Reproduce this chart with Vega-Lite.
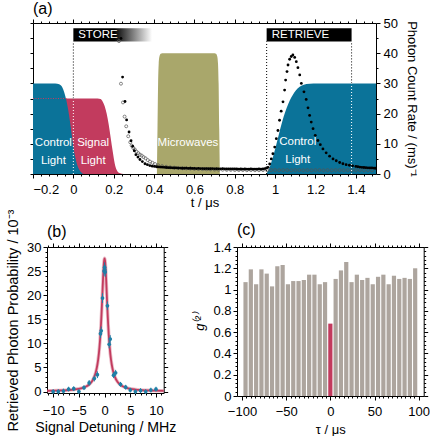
{
"$schema": "https://vega.github.io/schema/vega-lite/v6.json",
"background": "white",
"padding": {"left": 5, "top": 1, "right": 0, "bottom": 0},
"columns": 1,
"spacing": 0,
"config": {
  "font": "Liberation Sans",
  "view": {"stroke": null},
  "axis": {"grid": false, "domainColor": "black", "tickColor": "black", "labelColor": "black", "titleColor": "black", "labelFont": "Liberation Sans", "titleFont": "Liberation Sans", "titleFontWeight": "normal", "labelFontSize": 13, "titleFontSize": 13, "domainWidth": 1, "tickWidth": 1, "zindex": 1},
  "title": {"fontSize": 16, "fontWeight": "normal", "anchor": "start", "frame": "group", "font": "Liberation Sans", "color": "black", "offset": 3}
},
"datasets": {
  "ctrl1": [{"t":-0.2,"v":30},{"t":-0.09,"v":30},{"t":-0.07,"v":29.7},{"t":-0.055,"v":28.7},{"t":-0.045,"v":27},{"t":-0.035,"v":24.5},{"t":-0.025,"v":21},{"t":-0.015,"v":16.5},{"t":-0.005,"v":11.5},{"t":0.005,"v":7},{"t":0.015,"v":4},{"t":0.025,"v":2},{"t":0.035,"v":0.8},{"t":0.045,"v":0.2},{"t":0.055,"v":0}],
  "signal": [{"t":-0.2,"v":25},{"t":0.12,"v":25},{"t":0.135,"v":24.8},{"t":0.145,"v":24},{"t":0.155,"v":22.5},{"t":0.165,"v":20},{"t":0.175,"v":16.5},{"t":0.185,"v":12},{"t":0.195,"v":7.5},{"t":0.205,"v":3.5},{"t":0.215,"v":1.3},{"t":0.225,"v":0.4},{"t":0.24,"v":0.1},{"t":0.26,"v":0}],
  "micro": [{"t":0.414,"v":0},{"t":0.417,"v":15},{"t":0.42,"v":30},{"t":0.423,"v":36.5},{"t":0.427,"v":39},{"t":0.433,"v":39.8},{"t":0.44,"v":40},{"t":0.7,"v":40},{"t":0.707,"v":39.8},{"t":0.713,"v":39},{"t":0.717,"v":36.5},{"t":0.72,"v":30},{"t":0.723,"v":15},{"t":0.726,"v":0}],
  "ctrl2": [{"t":0.955,"v":0},{"t":0.965,"v":1},{"t":0.975,"v":2.6},{"t":0.99,"v":5.8},{"t":1.005,"v":9.5},{"t":1.02,"v":13.5},{"t":1.035,"v":17.3},{"t":1.05,"v":20.5},{"t":1.065,"v":23.2},{"t":1.08,"v":25.3},{"t":1.095,"v":27},{"t":1.11,"v":28.2},{"t":1.13,"v":29.2},{"t":1.155,"v":29.8},{"t":1.19,"v":30},{"t":1.5,"v":30}],
  "pinkline": [{"t":-0.2,"v":25},{"t":-0.03,"v":25}],
  "vblack": [{"t":0,"lo":25,"hi":43.9},{"t":0.958,"lo":0,"hi":43.9},{"t":1.379,"lo":30,"hi":43.9}],
  "vwhite": [{"t":0,"lo":0,"hi":25},{"t":1.379,"lo":0,"hi":30}],
  "storeBox": [{"t1":0,"t2":0.39,"lo":43.9,"hi":48.3}],
  "retrieveBox": [{"t1":0.958,"t2":1.379,"lo":43.9,"hi":48.3}],
  "areaLabels": [{"t":-0.099,"v":10.3,"label":"Control"},{"t":-0.099,"v":4.4,"label":"Light"},{"t":0.098,"v":10.3,"label":"Signal"},{"t":0.098,"v":4.4,"label":"Light"},{"t":0.568,"v":10.3,"label":"Microwaves"},{"t":1.112,"v":10.6,"label":"Control"},{"t":1.112,"v":4.8,"label":"Light"}],
  "boxLabels": [{"t":0.024,"v":46,"label":"STORE"},{"t":0.983,"v":46,"label":"RETRIEVE"}],
  "openPts": [{"t":0.226,"v":44.0},{"t":0.236,"v":29.9},{"t":0.246,"v":23.7},{"t":0.254,"v":19.0},{"t":0.262,"v":15.8},{"t":0.272,"v":12.5},{"t":0.282,"v":10.5},{"t":0.289,"v":9.4},{"t":0.297,"v":8.6},{"t":0.305,"v":8.1},{"t":0.313,"v":7.4},{"t":0.322,"v":6.9},{"t":0.33,"v":6.4},{"t":0.339,"v":6.1},{"t":0.348,"v":5.6},{"t":0.358,"v":5.2},{"t":0.369,"v":4.6},{"t":0.38,"v":4.1},{"t":0.392,"v":3.7},{"t":0.405,"v":3.3},{"t":0.42,"v":2.9},{"t":0.44,"v":2.6},{"t":0.46,"v":2.4},{"t":0.48,"v":2.2},{"t":0.5,"v":2.1},{"t":0.52,"v":2.0},{"t":0.54,"v":1.9},{"t":0.56,"v":1.85},{"t":0.58,"v":1.8},{"t":0.6,"v":1.7},{"t":0.62,"v":1.65},{"t":0.64,"v":1.6},{"t":0.66,"v":1.55},{"t":0.68,"v":1.5},{"t":0.7,"v":1.45},{"t":0.72,"v":1.4},{"t":0.74,"v":1.4},{"t":0.76,"v":1.35},{"t":0.78,"v":1.35},{"t":0.8,"v":1.3},{"t":0.82,"v":1.3},{"t":0.84,"v":1.3},{"t":0.86,"v":1.25},{"t":0.88,"v":1.3},{"t":0.9,"v":1.25},{"t":0.92,"v":1.25},{"t":0.94,"v":1.3},{"t":0.96,"v":1.25},{"t":0.98,"v":1.3},{"t":1.0,"v":1.3},{"t":1.02,"v":1.25},{"t":1.04,"v":1.3},{"t":1.06,"v":1.3},{"t":1.08,"v":1.25},{"t":1.1,"v":1.3},{"t":1.12,"v":1.3},{"t":1.14,"v":1.25},{"t":1.16,"v":1.3},{"t":1.18,"v":1.25},{"t":1.2,"v":1.3},{"t":1.22,"v":1.3},{"t":1.24,"v":1.25},{"t":1.26,"v":1.3},{"t":1.28,"v":1.25},{"t":1.3,"v":1.3},{"t":1.32,"v":1.3},{"t":1.34,"v":1.25},{"t":1.36,"v":1.3},{"t":1.38,"v":1.25},{"t":1.4,"v":1.3},{"t":1.42,"v":1.3},{"t":1.44,"v":1.25},{"t":1.46,"v":1.3},{"t":1.48,"v":1.25}],
  "filledPts": [{"t":0.236,"v":44.9},{"t":0.244,"v":32.1},{"t":0.256,"v":24.0},{"t":0.264,"v":17.9},{"t":0.276,"v":13.9},{"t":0.286,"v":11.0},{"t":0.294,"v":9.2},{"t":0.302,"v":7.7},{"t":0.31,"v":6.4},{"t":0.32,"v":5.6},{"t":0.33,"v":4.8},{"t":0.342,"v":4.1},{"t":0.355,"v":3.4},{"t":0.367,"v":3.1},{"t":0.379,"v":2.8},{"t":0.391,"v":2.6},{"t":0.402,"v":2.5},{"t":0.412,"v":2.4},{"t":0.42,"v":2.35},{"t":0.43,"v":2.3},{"t":0.44,"v":2.25},{"t":0.45,"v":2.2},{"t":0.46,"v":2.15},{"t":0.47,"v":2.1},{"t":0.48,"v":2.1},{"t":0.49,"v":2.05},{"t":0.5,"v":2.0},{"t":0.51,"v":2.0},{"t":0.52,"v":1.95},{"t":0.53,"v":1.95},{"t":0.54,"v":1.9},{"t":0.55,"v":1.9},{"t":0.56,"v":1.95},{"t":0.57,"v":1.85},{"t":0.58,"v":1.9},{"t":0.59,"v":1.85},{"t":0.6,"v":1.85},{"t":0.61,"v":1.8},{"t":0.62,"v":1.85},{"t":0.63,"v":1.8},{"t":0.64,"v":1.8},{"t":0.65,"v":1.75},{"t":0.66,"v":1.8},{"t":0.67,"v":1.75},{"t":0.68,"v":1.75},{"t":0.69,"v":1.8},{"t":0.7,"v":1.7},{"t":0.71,"v":1.75},{"t":0.72,"v":1.7},{"t":0.73,"v":1.7},{"t":0.74,"v":1.75},{"t":0.75,"v":1.7},{"t":0.76,"v":1.65},{"t":0.77,"v":1.7},{"t":0.78,"v":1.65},{"t":0.79,"v":1.7},{"t":0.8,"v":1.65},{"t":0.81,"v":1.65},{"t":0.82,"v":1.6},{"t":0.83,"v":1.65},{"t":0.84,"v":1.6},{"t":0.85,"v":1.65},{"t":0.86,"v":1.6},{"t":0.87,"v":1.6},{"t":0.88,"v":1.65},{"t":0.89,"v":1.6},{"t":0.9,"v":1.6},{"t":0.91,"v":1.6},{"t":0.92,"v":1.65},{"t":0.93,"v":1.6},{"t":0.94,"v":1.65},{"t":0.95,"v":1.8},{"t":0.958,"v":2.0},{"t":0.965,"v":2.2},{"t":0.973,"v":3.3},{"t":0.981,"v":5.0},{"t":0.989,"v":6.7},{"t":0.998,"v":8.9},{"t":1.006,"v":11.7},{"t":1.014,"v":14.4},{"t":1.022,"v":17.8},{"t":1.03,"v":20.8},{"t":1.039,"v":23.9},{"t":1.047,"v":27.8},{"t":1.052,"v":31.1},{"t":1.059,"v":33.9},{"t":1.064,"v":36.1},{"t":1.072,"v":38.0},{"t":1.08,"v":38.9},{"t":1.088,"v":39.4},{"t":1.097,"v":38.6},{"t":1.105,"v":37.2},{"t":1.113,"v":35.2},{"t":1.122,"v":32.8},{"t":1.13,"v":30.0},{"t":1.143,"v":27.2},{"t":1.154,"v":24.7},{"t":1.163,"v":21.9},{"t":1.171,"v":19.4},{"t":1.179,"v":17.2},{"t":1.188,"v":15.0},{"t":1.199,"v":12.8},{"t":1.212,"v":11.1},{"t":1.224,"v":9.7},{"t":1.237,"v":8.3},{"t":1.253,"v":7.0},{"t":1.27,"v":5.9},{"t":1.287,"v":5.0},{"t":1.303,"v":4.4},{"t":1.32,"v":3.8},{"t":1.336,"v":3.4},{"t":1.352,"v":3.1},{"t":1.368,"v":2.9},{"t":1.384,"v":2.7},{"t":1.4,"v":2.5},{"t":1.41,"v":2.4},{"t":1.42,"v":2.3},{"t":1.43,"v":2.2},{"t":1.44,"v":2.15},{"t":1.45,"v":2.1},{"t":1.46,"v":2.05},{"t":1.47,"v":2.0},{"t":1.48,"v":2.0},{"t":1.49,"v":1.95},{"t":1.497,"v":1.9}],
  "specPts": [{"f":-10,"p":0.0,"lo":-0.5,"hi":0.5},{"f":-9,"p":0.0,"lo":-0.5,"hi":0.5},{"f":-8,"p":0.1,"lo":-0.4,"hi":0.6},{"f":-7,"p":0.5,"lo":0.0,"hi":1.0},{"f":-6,"p":0.6,"lo":0.1,"hi":1.1},{"f":-5,"p":0.0,"lo":-0.5,"hi":0.5},{"f":-4,"p":0.8,"lo":0.3,"hi":1.3},{"f":-3,"p":1.8,"lo":1.2,"hi":2.4},{"f":-2,"p":2.7,"lo":2.1,"hi":3.3},{"f":-1.4,"p":3.5,"lo":2.8,"hi":4.2},{"f":-0.8,"p":12.0,"lo":11.1,"hi":12.9},{"f":-0.65,"p":12.6,"lo":11.7,"hi":13.5},{"f":-0.4,"p":19.4,"lo":18.4,"hi":20.4},{"f":-0.1,"p":25.0,"lo":24.0,"hi":26.0},{"f":0,"p":25.8,"lo":24.8,"hi":26.8},{"f":0.05,"p":25.3,"lo":24.3,"hi":26.3},{"f":0.12,"p":24.8,"lo":23.8,"hi":25.8},{"f":0.55,"p":17.8,"lo":16.9,"hi":18.7},{"f":0.9,"p":9.8,"lo":9.0,"hi":10.6},{"f":1.1,"p":10.9,"lo":10.1,"hi":11.7},{"f":1.75,"p":3.4,"lo":2.8,"hi":4.0},{"f":2.15,"p":3.9,"lo":3.3,"hi":4.5},{"f":3.1,"p":1.5,"lo":1.0,"hi":2.0},{"f":4.1,"p":0.9,"lo":0.4,"hi":1.4},{"f":5,"p":0.3,"lo":-0.2,"hi":0.8},{"f":6,"p":0.0,"lo":-0.5,"hi":0.5},{"f":7,"p":0.2,"lo":-0.3,"hi":0.7},{"f":8,"p":0.0,"lo":-0.5,"hi":0.5},{"f":9,"p":0.3,"lo":-0.2,"hi":0.8},{"f":10,"p":0.5,"lo":0.0,"hi":1.0}],
  "fit": [{"f":-11.2,"p":0.16},{"f":-10,"p":0.18},{"f":-9,"p":0.22},{"f":-8,"p":0.26},{"f":-7,"p":0.32},{"f":-6,"p":0.42},{"f":-5,"p":0.58},{"f":-4,"p":0.87},{"f":-3.5,"p":1.11},{"f":-3,"p":1.47},{"f":-2.5,"p":2.06},{"f":-2,"p":3.06},{"f":-1.75,"p":3.86},{"f":-1.5,"p":4.99},{"f":-1.25,"p":6.64},{"f":-1,"p":9.13},{"f":-0.9,"p":10.45},{"f":-0.8,"p":12.02},{"f":-0.7,"p":13.85},{"f":-0.6,"p":15.96},{"f":-0.5,"p":18.33},{"f":-0.4,"p":20.85},{"f":-0.3,"p":23.36},{"f":-0.2,"p":25.57},{"f":-0.1,"p":27.1},{"f":0,"p":27.65},{"f":0.1,"p":27.1},{"f":0.2,"p":25.57},{"f":0.3,"p":23.36},{"f":0.4,"p":20.85},{"f":0.5,"p":18.33},{"f":0.6,"p":15.96},{"f":0.7,"p":13.85},{"f":0.8,"p":12.02},{"f":0.9,"p":10.45},{"f":1,"p":9.13},{"f":1.25,"p":6.64},{"f":1.5,"p":4.99},{"f":1.75,"p":3.86},{"f":2,"p":3.06},{"f":2.5,"p":2.06},{"f":3,"p":1.47},{"f":3.5,"p":1.11},{"f":4,"p":0.87},{"f":5,"p":0.58},{"f":6,"p":0.42},{"f":7,"p":0.32},{"f":8,"p":0.26},{"f":9,"p":0.22},{"f":10,"p":0.18},{"f":11.5,"p":0.15}],
  "bars": [{"tau":-96,"g":1.07},{"tau":-90,"g":1.19},{"tau":-84,"g":1.05},{"tau":-78,"g":1.19},{"tau":-72,"g":1.15},{"tau":-66,"g":1.03},{"tau":-60,"g":1.22},{"tau":-54,"g":1.23},{"tau":-48,"g":1.05},{"tau":-42,"g":1.08},{"tau":-36,"g":1.08},{"tau":-30,"g":1.09},{"tau":-24,"g":1.14},{"tau":-18,"g":1.14},{"tau":-12,"g":1.05},{"tau":-6,"g":1.07},{"tau":0,"g":0.68},{"tau":6,"g":1.1},{"tau":12,"g":1.18},{"tau":18,"g":1.26},{"tau":24,"g":1.07},{"tau":30,"g":1.14},{"tau":36,"g":1.09},{"tau":42,"g":1.11},{"tau":48,"g":1.05},{"tau":54,"g":1.12},{"tau":60,"g":1.14},{"tau":66,"g":1.05},{"tau":72,"g":1.13},{"tau":78,"g":1.1},{"tau":84,"g":1.11},{"tau":90,"g":1.1},{"tau":96,"g":1.2}],
  "blank": [{"k": 0}]
},
"concat": [
 {
  "width": 343, "height": 151,
  "title": {"text": "(a)", "offset": 0},
  "resolve": {"axis": {"x": "independent", "y": "independent"}},
  "layer": [
   {"data": {"name": "signal"}, "mark": {"type": "area", "color": "#C23B5E", "interpolate": "monotone"},
    "encoding": {"x": {"field": "t", "type": "quantitative", "scale": {"domain": [-0.2, 1.5], "nice": false, "zero": false}, "axis": {"orient": "bottom", "values": [-0.2, 0, 0.2, 0.4, 0.6, 0.8, 1, 1.2, 1.4], "format": "~g", "title": "t / μs", "tickSize": 4, "labelPadding": 5, "titlePadding": 0}},
                 "y": {"field": "v", "type": "quantitative", "scale": {"domain": [0, 50], "nice": false, "zero": false}, "axis": {"orient": "right", "values": [0, 10, 20, 30, 40, 50], "title": "Photon Count Rate / (ms)⁻¹", "tickSize": 4, "labelPadding": 3, "titlePadding": 7}}}},
   {"data": {"name": "ctrl1"}, "mark": {"type": "area", "color": "#0B7399", "interpolate": "monotone"},
    "encoding": {"x": {"field": "t", "type": "quantitative", "scale": {"domain": [-0.2, 1.5], "nice": false, "zero": false}, "axis": {"orient": "bottom", "values": [-0.16,-0.12,-0.08,-0.04,0.04,0.08,0.12,0.16,0.24,0.28,0.32,0.36,0.44,0.48,0.52,0.56,0.64,0.68,0.72,0.76,0.84,0.88,0.92,0.96,1.04,1.08,1.12,1.16,1.24,1.28,1.32,1.36,1.44,1.48], "labels": false, "title": null, "tickSize": 2, "domain": false}},
                 "y": {"field": "v", "type": "quantitative", "scale": {"domain": [0, 50], "nice": false, "zero": false}, "axis": {"orient": "right", "values": [5, 15, 25, 35, 45], "labels": false, "title": null, "tickSize": 2, "domain": false}}}},
   {"data": {"name": "pinkline"}, "mark": {"type": "line", "color": "#C23B5E", "strokeWidth": 1, "strokeDash": [1, 1.5]},
    "encoding": {"x": {"field": "t", "type": "quantitative", "scale": {"domain": [-0.2, 1.5], "nice": false, "zero": false}, "axis": null},
                 "y": {"field": "v", "type": "quantitative", "scale": {"domain": [0, 50], "nice": false, "zero": false}, "axis": null}}},
   {"data": {"name": "micro"}, "mark": {"type": "area", "color": "#A9A76B", "interpolate": "monotone"},
    "encoding": {"x": {"field": "t", "type": "quantitative", "scale": {"domain": [-0.2, 1.5], "nice": false, "zero": false}, "axis": {"orient": "top", "values": [-0.2, 0, 0.2, 0.4, 0.6, 0.8, 1, 1.2, 1.4], "labels": false, "title": null, "tickSize": 4}},
                 "y": {"field": "v", "type": "quantitative", "scale": {"domain": [0, 50], "nice": false, "zero": false}, "axis": {"orient": "left", "values": [0,5,10,15,20,25,30,35,40,45,50], "labels": false, "title": null, "tickSize": 3}}}},
   {"data": {"name": "ctrl2"}, "mark": {"type": "area", "color": "#0B7399", "interpolate": "monotone"},
    "encoding": {"x": {"field": "t", "type": "quantitative", "scale": {"domain": [-0.2, 1.5], "nice": false, "zero": false}, "axis": {"orient": "top", "values": [-0.16,-0.12,-0.08,-0.04,0.04,0.08,0.12,0.16,0.24,0.28,0.32,0.36,0.44,0.48,0.52,0.56,0.64,0.68,0.72,0.76,0.84,0.88,0.92,0.96,1.04,1.08,1.12,1.16,1.24,1.28,1.32,1.36,1.44,1.48], "labels": false, "title": null, "tickSize": 2, "domain": false}},
                 "y": {"field": "v", "type": "quantitative", "scale": {"domain": [0, 50], "nice": false, "zero": false}, "axis": null}}},
   {"data": {"name": "vblack"}, "mark": {"type": "rule", "color": "black", "strokeWidth": 1, "strokeDash": [1, 2]},
    "encoding": {"x": {"field": "t", "type": "quantitative", "scale": {"domain": [-0.2, 1.5], "nice": false, "zero": false}, "axis": null},
                 "y": {"field": "lo", "type": "quantitative", "scale": {"domain": [0, 50], "nice": false, "zero": false}, "axis": null}, "y2": {"field": "hi"}}},
   {"data": {"name": "vwhite"}, "mark": {"type": "rule", "color": "white", "strokeWidth": 1, "strokeDash": [1, 2]},
    "encoding": {"x": {"field": "t", "type": "quantitative", "scale": {"domain": [-0.2, 1.5], "nice": false, "zero": false}, "axis": null},
                 "y": {"field": "lo", "type": "quantitative", "scale": {"domain": [0, 50], "nice": false, "zero": false}, "axis": null}, "y2": {"field": "hi"}}},
   {"data": {"name": "storeBox"}, "mark": {"type": "rect", "fill": {"gradient": "linear", "x1": 0, "y1": 0, "x2": 1, "y2": 0, "stops": [{"offset": 0, "color": "black"}, {"offset": 0.52, "color": "black"}, {"offset": 1, "color": "white"}]}},
    "encoding": {"x": {"field": "t1", "type": "quantitative", "scale": {"domain": [-0.2, 1.5], "nice": false, "zero": false}, "axis": null}, "x2": {"field": "t2"},
                 "y": {"field": "lo", "type": "quantitative", "scale": {"domain": [0, 50], "nice": false, "zero": false}, "axis": null}, "y2": {"field": "hi"}}},
   {"data": {"name": "retrieveBox"}, "mark": {"type": "rect", "color": "black"},
    "encoding": {"x": {"field": "t1", "type": "quantitative", "scale": {"domain": [-0.2, 1.5], "nice": false, "zero": false}, "axis": null}, "x2": {"field": "t2"},
                 "y": {"field": "lo", "type": "quantitative", "scale": {"domain": [0, 50], "nice": false, "zero": false}, "axis": null}, "y2": {"field": "hi"}}},
   {"data": {"name": "areaLabels"}, "mark": {"type": "text", "color": "white", "fontSize": 11.5, "font": "Liberation Sans", "baseline": "middle", "align": "center"},
    "encoding": {"x": {"field": "t", "type": "quantitative", "scale": {"domain": [-0.2, 1.5], "nice": false, "zero": false}, "axis": null},
                 "y": {"field": "v", "type": "quantitative", "scale": {"domain": [0, 50], "nice": false, "zero": false}, "axis": null}, "text": {"field": "label"}}},
   {"data": {"name": "boxLabels"}, "mark": {"type": "text", "color": "white", "fontSize": 11.5, "font": "Liberation Sans", "baseline": "middle", "align": "left"},
    "encoding": {"x": {"field": "t", "type": "quantitative", "scale": {"domain": [-0.2, 1.5], "nice": false, "zero": false}, "axis": null},
                 "y": {"field": "v", "type": "quantitative", "scale": {"domain": [0, 50], "nice": false, "zero": false}, "axis": null}, "text": {"field": "label"}}},
   {"data": {"name": "openPts"}, "mark": {"type": "point", "shape": "circle", "filled": false, "color": "#555555", "size": 9, "strokeWidth": 0.7, "opacity": 1},
    "encoding": {"x": {"field": "t", "type": "quantitative", "scale": {"domain": [-0.2, 1.5], "nice": false, "zero": false}, "axis": null},
                 "y": {"field": "v", "type": "quantitative", "scale": {"domain": [0, 50], "nice": false, "zero": false}, "axis": null}}},
   {"data": {"name": "filledPts"}, "mark": {"type": "circle", "color": "black", "size": 8, "opacity": 1},
    "encoding": {"x": {"field": "t", "type": "quantitative", "scale": {"domain": [-0.2, 1.5], "nice": false, "zero": false}, "axis": null},
                 "y": {"field": "v", "type": "quantitative", "scale": {"domain": [0, 50], "nice": false, "zero": false}, "axis": null}}}
  ]
 },
 {
  "spacing": 17,
  "hconcat": [
   {
    "bounds": "flush",
    "spacing": 13,
    "hconcat": [
     {"width": 1, "height": 146, "data": {"name": "blank"}, "mark": {"type": "point", "opacity": 0}, "encoding": {}},
     {
      "width": 116.7, "height": 146,
      "title": {"text": "(b)", "offset": -31},
      "resolve": {"axis": {"x": "independent", "y": "independent"}},
      "layer": [
       {"data": {"name": "fit"}, "mark": {"type": "line", "color": "#C23B5E", "strokeWidth": 3.5, "opacity": 0.35, "interpolate": "monotone"},
        "encoding": {"x": {"field": "f", "type": "quantitative", "scale": {"domain": [-11.2, 11.5], "nice": false, "zero": false}, "axis": {"orient": "bottom", "values": [-10, -5, 0, 5, 10], "title": "Signal Detuning / MHz", "tickSize": 4, "labelPadding": 7, "titlePadding": 3, "titleFontSize": 14.2}},
                     "y": {"field": "p", "type": "quantitative", "scale": {"domain": [-0.3, 30], "nice": false, "zero": false}, "axis": {"orient": "left", "values": [0, 5, 10, 15, 20, 25, 30], "title": "Retrieved Photon Probability / 10⁻³", "tickSize": 4, "labelPadding": 2, "titlePadding": 6, "titleFontSize": 14.5}}}},
       {"data": {"name": "fit"}, "mark": {"type": "line", "color": "#C23B5E", "strokeWidth": 1.8, "interpolate": "monotone"},
        "encoding": {"x": {"field": "f", "type": "quantitative", "scale": {"domain": [-11.2, 11.5], "nice": false, "zero": false}, "axis": {"orient": "bottom", "values": [-11,-9,-8,-7,-6,-4,-3,-2,-1,1,2,3,4,6,7,8,9,11], "labels": false, "title": null, "tickSize": 2, "domain": false}},
                     "y": {"field": "p", "type": "quantitative", "scale": {"domain": [-0.3, 30], "nice": false, "zero": false}, "axis": {"orient": "left", "values": [1,2,3,4,6,7,8,9,11,12,13,14,16,17,18,19,21,22,23,24,26,27,28,29], "labels": false, "title": null, "tickSize": 2, "domain": false}}}},
       {"data": {"name": "specPts"}, "mark": {"type": "rule", "color": "#1F7FA6", "strokeWidth": 1},
        "encoding": {"x": {"field": "f", "type": "quantitative", "scale": {"domain": [-11.2, 11.5], "nice": false, "zero": false}, "axis": {"orient": "top", "values": [-10, -5, 0, 5, 10], "labels": false, "title": null, "tickSize": 4}},
                     "y": {"field": "lo", "type": "quantitative", "scale": {"domain": [-0.3, 30], "nice": false, "zero": false}, "axis": {"orient": "right", "values": [0, 5, 10, 15, 20, 25, 30], "labels": false, "title": null, "tickSize": 4}}, "y2": {"field": "hi"}}},
       {"data": {"name": "specPts"}, "mark": {"type": "circle", "color": "#1F7FA6", "size": 14, "opacity": 1},
        "encoding": {"x": {"field": "f", "type": "quantitative", "scale": {"domain": [-11.2, 11.5], "nice": false, "zero": false}, "axis": {"orient": "top", "values": [-11,-9,-8,-7,-6,-4,-3,-2,-1,1,2,3,4,6,7,8,9,11], "labels": false, "title": null, "tickSize": 2, "domain": false}},
                     "y": {"field": "p", "type": "quantitative", "scale": {"domain": [-0.3, 30], "nice": false, "zero": false}, "axis": {"orient": "right", "values": [1,2,3,4,6,7,8,9,11,12,13,14,16,17,18,19,21,22,23,24,26,27,28,29], "labels": false, "title": null, "tickSize": 2, "domain": false}}}}
      ]
     }
    ]
   },
   {
    "width": 186.7, "height": 149,
    "title": {"text": "(c)"},
    "resolve": {"axis": {"x": "independent", "y": "independent"}},
    "layer": [
     {"data": {"name": "bars"}, "transform": [{"filter": "datum.tau != 0"}], "mark": {"type": "bar", "color": "#ADA59E", "size": 4.2},
      "encoding": {"x": {"field": "tau", "type": "quantitative", "scale": {"domain": [-100, 100], "nice": false, "zero": false}, "axis": {"orient": "bottom", "values": [-100, -50, 0, 50, 100], "title": "τ / μs", "tickSize": 4, "labelPadding": 5, "titlePadding": 5}},
                   "y": {"field": "g", "type": "quantitative", "scale": {"domain": [0, 1.4], "nice": false, "zero": true}, "axis": {"orient": "left", "values": [0, 0.2, 0.4, 0.6, 0.8, 1, 1.2, 1.4], "format": "~g", "title": "g⁽²⁾", "titleFontStyle": "italic", "tickSize": 4, "labelPadding": 2, "titlePadding": 6}}}},
     {"data": {"name": "bars"}, "transform": [{"filter": "datum.tau == 0"}], "mark": {"type": "bar", "color": "#C23B5E", "size": 4.2},
      "encoding": {"x": {"field": "tau", "type": "quantitative", "scale": {"domain": [-100, 100], "nice": false, "zero": false}, "axis": {"orient": "bottom", "values": [-95,-90,-85,-80,-75,-70,-65,-60,-55,-45,-40,-35,-30,-25,-20,-15,-10,-5,5,10,15,20,25,30,35,40,45,55,60,65,70,75,80,85,90,95], "labels": false, "title": null, "tickSize": 2, "domain": false}},
                   "y": {"field": "g", "type": "quantitative", "scale": {"domain": [0, 1.4], "nice": false, "zero": true}, "axis": {"orient": "left", "values": [0.04,0.08,0.12,0.16,0.24,0.28,0.32,0.36,0.44,0.48,0.52,0.56,0.64,0.68,0.72,0.76,0.84,0.88,0.92,0.96,1.04,1.08,1.12,1.16,1.24,1.28,1.32,1.36], "labels": false, "title": null, "tickSize": 2, "domain": false}}}},
     {"data": {"name": "bars"}, "mark": {"type": "bar", "color": "#ADA59E", "size": 4.2, "opacity": 0},
      "encoding": {"x": {"field": "tau", "type": "quantitative", "scale": {"domain": [-100, 100], "nice": false, "zero": false}, "axis": {"orient": "top", "values": [-100, -50, 0, 50, 100], "labels": false, "title": null, "tickSize": 4}},
                   "y": {"field": "g", "type": "quantitative", "scale": {"domain": [0, 1.4], "nice": false, "zero": true}, "axis": {"orient": "right", "values": [0, 0.2, 0.4, 0.6, 0.8, 1, 1.2, 1.4], "labels": false, "title": null, "tickSize": 4}}}},
     {"data": {"name": "bars"}, "mark": {"type": "bar", "color": "#ADA59E", "size": 4.2, "opacity": 0},
      "encoding": {"x": {"field": "tau", "type": "quantitative", "scale": {"domain": [-100, 100], "nice": false, "zero": false}, "axis": {"orient": "top", "values": [-95,-90,-85,-80,-75,-70,-65,-60,-55,-45,-40,-35,-30,-25,-20,-15,-10,-5,5,10,15,20,25,30,35,40,45,55,60,65,70,75,80,85,90,95], "labels": false, "title": null, "tickSize": 2, "domain": false}},
                   "y": {"field": "g", "type": "quantitative", "scale": {"domain": [0, 1.4], "nice": false, "zero": true}, "axis": {"orient": "right", "values": [0.04,0.08,0.12,0.16,0.24,0.28,0.32,0.36,0.44,0.48,0.52,0.56,0.64,0.68,0.72,0.76,0.84,0.88,0.92,0.96,1.04,1.08,1.12,1.16,1.24,1.28,1.32,1.36], "labels": false, "title": null, "tickSize": 2, "domain": false}}}}
    ]
   }
  ]
 }
]
}
